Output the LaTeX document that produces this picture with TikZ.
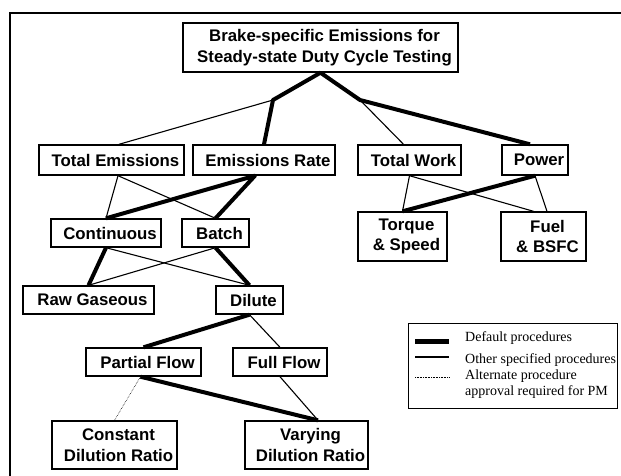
\documentclass[tikz,border=0pt]{standalone}
\usepackage{fontspec}
\setmainfont{Liberation Sans}
\newfontfamily\legendfont{Liberation Serif}
\usetikzlibrary{calc}
\newcommand\padl{\hspace*{8pt}}

\begin{document}
\begin{tikzpicture}[x=1pt,y=-1pt,
  box/.style={draw, line width=1.4pt, inner sep=0pt, align=center,
    font=\fontsize{16.8}{20.5}\selectfont\bfseries},
  leg/.style={inner sep=0pt, align=left, font=\legendfont\fontsize{14}{15.5}\selectfont},
  deflt/.style={line width=4pt, line join=round},
  other/.style={line width=1.1pt},
  altern/.style={line width=0.6pt, densely dotted}]
  \useasboundingbox (0,0) rectangle (621,475);
  \draw[line width=2.5pt] (10,476) -- (10,13) -- (622,13);
  % top
  \node[box, minimum width=275pt, minimum height=49pt] (title) at (320.5,47.5) {\padl Brake-specific Emissions for\\\padl Steady-state Duty Cycle Testing};
  \coordinate (jl) at (273,100);
  \coordinate (jr) at (360,100);
  % second row
  \node[box, minimum width=145pt, minimum height=30pt] (totem) at (111.5,160) {\padl Total Emissions};
  \node[box, minimum width=142pt, minimum height=30pt] (emrate) at (264,160) {\padl Emissions Rate};
  \node[box, minimum width=103pt, minimum height=30pt] (totwork) at (409.5,160) {\padl Total Work};
  \node[box, minimum width=66pt, minimum height=30pt] (power) at (535,160) {\padl Power};
  % sampling
  \node[box, minimum width=110pt, minimum height=28pt] (cont) at (106,233) {\padl Continuous};
  \node[box, minimum width=67pt, minimum height=28pt] (batch) at (215.5,233) {\padl Batch};
  \node[box, minimum width=89pt, minimum height=49pt] (torq) at (402.5,236.5) {\padl Torque\\\padl\& Speed};
  \node[box, minimum width=85pt, minimum height=49pt] (fuel) at (543.5,236.5) {\padl Fuel\\\padl\& BSFC};
  \node[box, minimum width=131pt, minimum height=28pt] (raw) at (88.5,300) {\padl Raw Gaseous};
  \node[box, minimum width=67pt, minimum height=28pt] (dil) at (249.5,300) {\padl Dilute};
  \node[box, minimum width=115pt, minimum height=28pt] (partial) at (143.5,362) {\padl Partial Flow};
  \node[box, minimum width=94pt, minimum height=28pt] (full) at (280,362) {\padl Full Flow};
  \node[box, minimum width=125pt, minimum height=48pt] (const) at (114.5,445) {\padl Constant\\\padl Dilution Ratio};
  \node[box, minimum width=123pt, minimum height=48pt] (vary) at (306.5,445) {\padl Varying\\\padl Dilution Ratio};
  % connectors
  \draw[deflt] (emrate.north) -- (jl) -- (title.south) -- (jr) -- ($(power.north)+(-5,0)$);
  \draw[other] ($(totem.north)+(7.5,0)$) -- (jl);
  \draw[other] (jr) -- ($(totwork.north)+(-6,0)$);
  \draw[other] ($(totem.south)+(6.5,0)$) -- (cont.north);
  \draw[other] ($(totem.south)+(6.5,0)$) -- (batch.north);
  \draw[deflt] (cont.north) -- ($(emrate.south)+(-9,0)$) -- (batch.north);
  \draw[deflt] (raw.north) -- (cont.south);
  \draw[other] (cont.south) -- (dil.north);
  \draw[other] (raw.north) -- (batch.south);
  \draw[deflt] (batch.south) -- (dil.north);
  \draw[deflt] (partial.north) -- (dil.south);
  \draw[other] (dil.south) -- (full.north);
  \draw[altern] ($(partial.south)+(-3,0)$) -- (const.north);
  \draw[deflt] ($(partial.south)+(-3,0)$) -- ($(vary.north)+(11.5,0)$);
  \draw[other] (full.south) -- ($(vary.north)+(11.5,0)$);
  \draw[other] (totwork.south) -- (torq.north);
  \draw[other] (totwork.south) -- ($(fuel.north)+(-10,0)$);
  \draw[deflt] (power.south) -- (torq.north);
  \draw[other] (power.south) -- ($(fuel.north)+(3.5,0)$);
  % legend
  \node[draw, line width=1pt, minimum width=209pt, minimum height=85pt] (legend) at (512.5,365.5) {};
  \node[leg, anchor=west] (ldef) at (465,338) {Default procedures};
  \node[leg, anchor=west] (loth) at (465,360) {Other specified procedures};
  \node[leg, anchor=west] (lalt) at (465,384) {Alternate procedure\\approval required for PM};
  \draw[line width=5pt] (415,341) -- (449,341);
  \draw[other] (415,357) -- (449,357);
  \draw[altern] (415,377) -- (449,377);
\end{tikzpicture}
\end{document}
